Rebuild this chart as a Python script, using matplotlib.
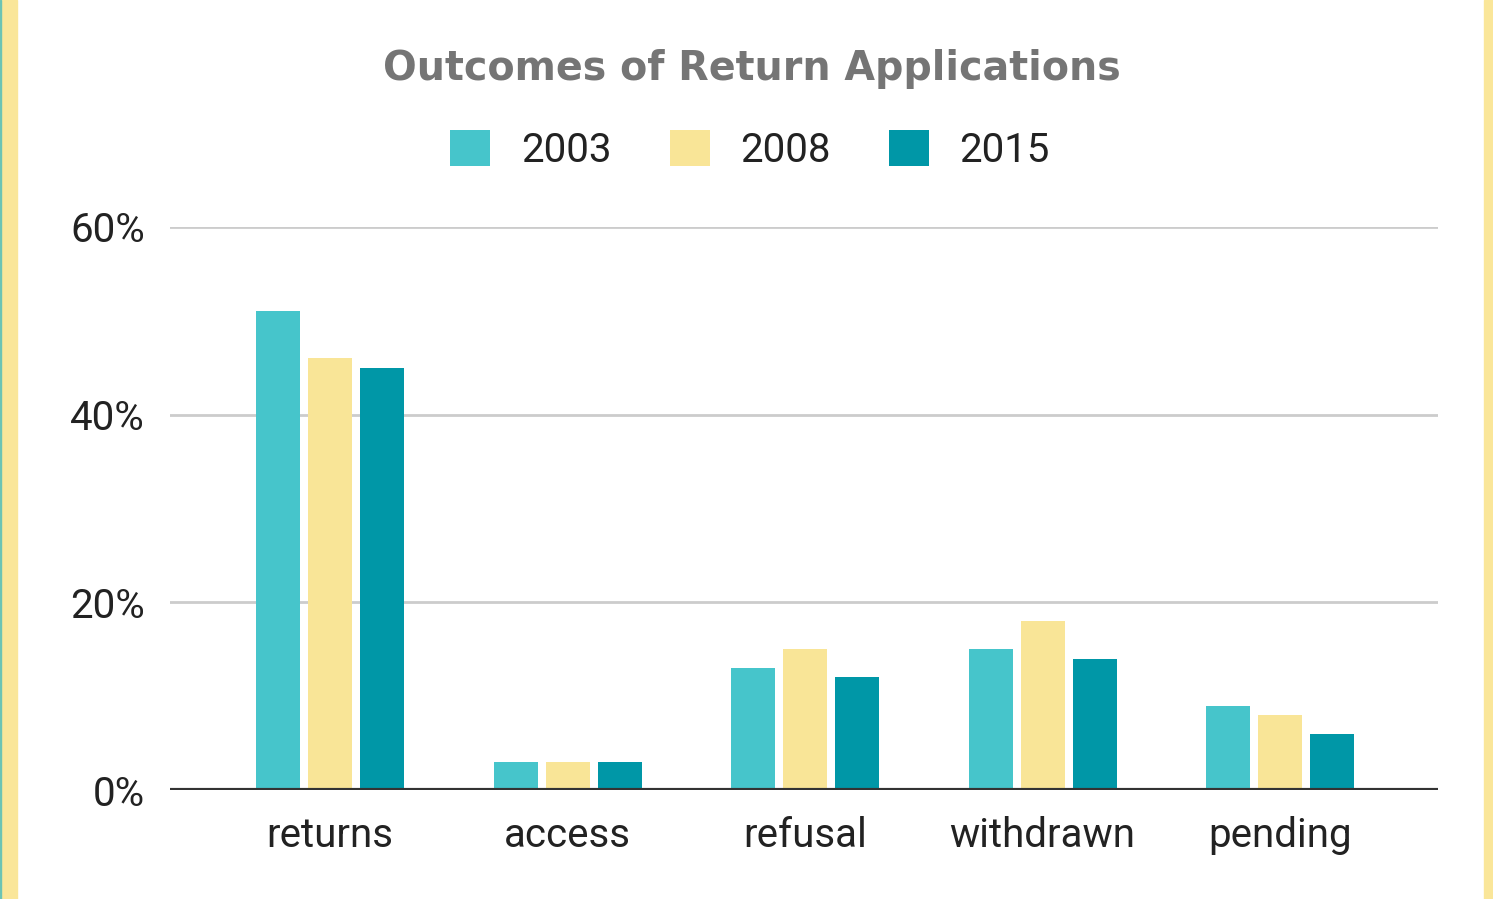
import numpy as np
import matplotlib.pyplot as plt
from matplotlib.patches import Rectangle
from matplotlib.ticker import FuncFormatter

plt.rcParams.update({'font.family': ['Roboto', 'DejaVu Sans']})

categories = ['returns', 'access', 'refusal', 'withdrawn', 'pending']
years = ['2003', '2008', '2015']
v2003 = [51, 3, 13, 15, 9]
v2008 = [46, 3, 15, 18, 8]
v2015 = [45, 3, 12, 14, 6]
colors = ['#46c5cb', '#f9e597', '#0097a7']

fig = plt.figure(figsize=(14.93, 8.99), dpi=100)
fig.patch.set_facecolor('white')
# yellow frame on the sides
fig.patches.append(Rectangle((0, 0), 17 / 1493, 1, transform=fig.transFigure,
                             color='#fae699', zorder=0))
fig.patches.append(Rectangle((1484 / 1493, 0), 9 / 1493, 1, transform=fig.transFigure,
                             color='#fae699', zorder=0))
fig.patches.append(Rectangle((0, 0), 1.5 / 1493, 1, transform=fig.transFigure,
                             color='#6cc4b4', zorder=0))

ax = fig.add_axes([170 / 1493, 1 - 790 / 899, 1268 / 1493, (790 - 227) / 899])

x = np.arange(len(categories))
w = 0.185
step = 0.219
for i, (vals, lab) in enumerate(zip([v2003, v2008, v2015], years)):
    ax.bar(x + (i - 1) * step, vals, width=w, color=colors[i], label=lab, zorder=3)

ax.set_ylim(0, 60)
ax.set_xlim(-0.674, 4.665)
ax.set_yticks([0, 20, 40, 60])
ax.yaxis.set_major_formatter(FuncFormatter(lambda v, p: f'{v:.0f}%'))
ax.grid(axis='y', color='#cccccc', lw=2, zorder=0)
ax.axhline(0, color='#333333', lw=3, zorder=4)
for s in ax.spines.values():
    s.set_visible(False)
ax.tick_params(length=0, labelsize=29, colors='#222222')
ax.tick_params(axis='y', pad=18)
ax.tick_params(axis='x', pad=19)
ax.set_xticks(x)
ax.set_xticklabels(categories)

fig.text(752 / 1493, 1 - 69 / 899, 'Outcomes of Return Applications', ha='center',
         va='center', fontsize=28.5, fontweight='bold', color='#757575',
         family='DejaVu Sans')
fig.legend(loc='center', bbox_to_anchor=(750 / 1493, 1 - 150 / 899), ncol=3,
           frameon=False, fontsize=29, handlelength=1.0, handleheight=1.0,
           handletextpad=0.75, columnspacing=1.45, labelcolor='#222222')

fig.savefig('out.png', dpi=100)
